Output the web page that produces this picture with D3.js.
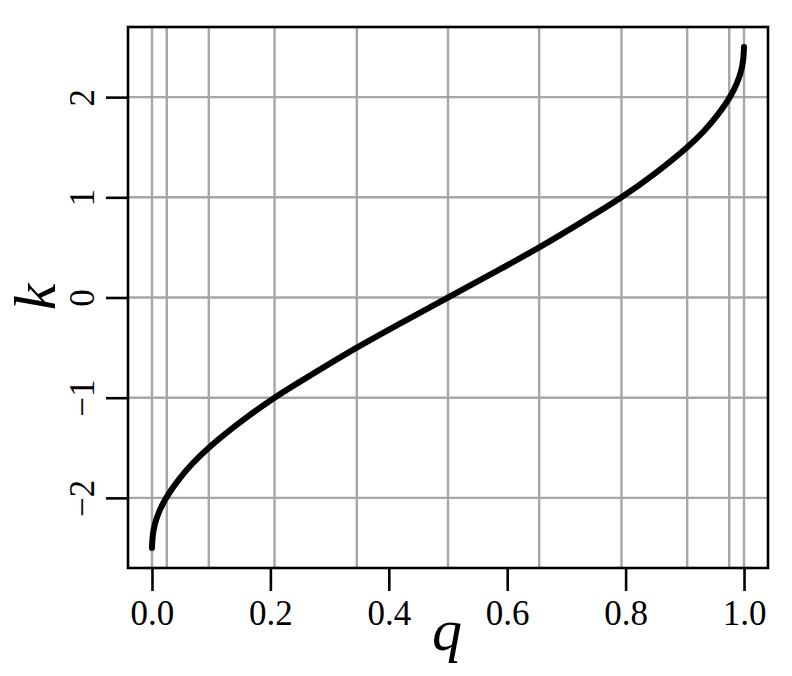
<!DOCTYPE html>
<html>
<head>
<meta charset="utf-8">
<script src="https://cdn.jsdelivr.net/npm/d3@7"></script>
<style>
  html, body { margin: 0; padding: 0; background: #fff; }
  svg { display: block; }
</style>
</head>
<body>
<svg id="chart" width="792" height="676"></svg>
<script>
// Data
const qValues = [0.000, 0.0015, 0.005, 0.012, 0.024, 0.045, 0.068, 0.096, 0.148, 0.207, 0.275, 0.346, 0.422, 0.500,
                 0.578, 0.654, 0.725, 0.793, 0.852, 0.904, 0.932, 0.955, 0.976, 0.988, 0.995, 0.9985, 1.000];
const kValues = [-2.50, -2.37, -2.26, -2.14, -2.00, -1.82, -1.66, -1.50, -1.25, -1.00, -0.75, -0.50, -0.25, 0.00,
                 0.25, 0.50, 0.75, 1.00, 1.25, 1.50, 1.66, 1.82, 2.00, 2.14, 2.26, 2.37, 2.50];
const qGrid = [0.000, 0.025, 0.096, 0.207, 0.346, 0.500, 0.654, 0.793, 0.904, 0.975, 1.000];
const kGrid = [-2, -1, 0, 1, 2];
const qTicks = [0.0, 0.2, 0.4, 0.6, 0.8, 1.0];
const kTicks = [-2, -1, 0, 1, 2];

const svg = d3.select("#chart");
const box = { left: 128, top: 27, right: 768, bottom: 568 };

const x = d3.scaleLinear().domain([-0.0405, 1.0405]).range([box.left, box.right]);
const y = d3.scaleLinear().domain([-2.70, 2.70]).range([box.bottom, box.top]);

const font = "'Liberation Serif', 'Times New Roman', serif";
const gridColor = "#a6a6a6";

// grid
svg.append("g").selectAll("line").data(qGrid).join("line")
  .attr("x1", d => x(d)).attr("x2", d => x(d))
  .attr("y1", box.top).attr("y2", box.bottom)
  .attr("stroke", gridColor).attr("stroke-width", 2.4);
svg.append("g").selectAll("line").data(kGrid).join("line")
  .attr("x1", box.left).attr("x2", box.right)
  .attr("y1", d => y(d)).attr("y2", d => y(d))
  .attr("stroke", gridColor).attr("stroke-width", 2.4);

// curve
const pts = qValues.map((q, i) => [q, kValues[i]]);
svg.append("path")
  .datum(pts)
  .attr("d", d3.line().x(d => x(d[0])).y(d => y(d[1])).curve(d3.curveCatmullRom.alpha(0.5)))
  .attr("fill", "none")
  .attr("stroke", "#000")
  .attr("stroke-width", 6)
  .attr("stroke-linecap", "round")
  .attr("stroke-linejoin", "round");

// box
svg.append("rect")
  .attr("x", box.left).attr("y", box.top)
  .attr("width", box.right - box.left).attr("height", box.bottom - box.top)
  .attr("fill", "none").attr("stroke", "#000").attr("stroke-width", 2.6);

// x axis
const xAxis = d3.axisBottom(x).tickValues(qTicks).tickSize(23).tickPadding(10)
  .tickFormat(d3.format(".1f"));
const gx = svg.append("g").attr("transform", `translate(0,${box.bottom})`).call(xAxis);
gx.select(".domain").remove();
gx.selectAll(".tick line").attr("stroke", "#000").attr("stroke-width", 2.6);
gx.selectAll(".tick text")
  .attr("font-family", font).attr("font-size", 35).attr("fill", "#000")
  .attr("dy", null).attr("y", 57);

// y axis (rotated labels)
const yAxis = d3.axisLeft(y).tickValues(kTicks).tickSize(22)
  .tickFormat(d => d < 0 ? "\u2212" + Math.abs(d) : String(d));
const gy = svg.append("g").attr("transform", `translate(${box.left},0)`).call(yAxis);
gy.select(".domain").remove();
gy.selectAll(".tick line").attr("stroke", "#000").attr("stroke-width", 2.6);
gy.selectAll(".tick text")
  .attr("font-family", font).attr("font-size", 35).attr("fill", "#000")
  .attr("x", null).attr("dy", null)
  .attr("text-anchor", "middle")
  .attr("transform", "translate(-34,0) rotate(-90)");

// axis titles
svg.append("text")
  .attr("x", 447).attr("y", 650)
  .attr("text-anchor", "middle")
  .attr("font-family", font).attr("font-style", "italic")
  .attr("font-size", 60).attr("fill", "#000")
  .text("q");
svg.append("text")
  .attr("transform", "translate(55,297) rotate(-90)")
  .attr("text-anchor", "middle")
  .attr("font-family", font).attr("font-style", "italic")
  .attr("font-size", 60).attr("fill", "#000")
  .text("k");
</script>
</body>
</html>
